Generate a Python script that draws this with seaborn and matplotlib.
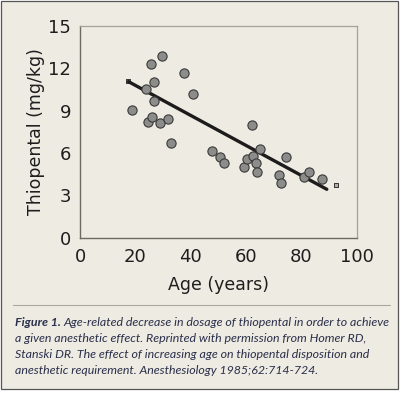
import matplotlib
matplotlib.use("Agg")
import matplotlib.pyplot as plt
import seaborn as sns
import pandas as pd
from matplotlib.lines import Line2D
from matplotlib.patches import Rectangle

# data
age = [18.8, 23.7, 25.5, 26.9, 26.9, 24.6, 25.9, 29.5, 28.9, 31.8, 32.8, 37.6,
       40.7, 47.8, 50.6, 52.2, 59.4, 60.4, 62.0, 62.7, 63.5, 63.9, 65.2, 74.5,
       71.8, 72.5, 81.0, 82.9, 87.5]
dose = [9.05, 10.52, 12.28, 11.0, 9.71, 8.2, 8.53, 12.87, 8.10, 8.39, 6.69, 11.69,
        10.18, 6.17, 5.69, 5.29, 4.98, 5.55, 7.96, 5.79, 5.32, 4.63, 6.26, 5.69,
        4.42, 3.85, 4.32, 4.68, 4.18]
fit_age = [17.5, 89.2]
fit_dose = [11.06, 3.43]
end_age = [17.5, 92.4]
end_dose = [11.1, 3.7]

x_ticks = [0, 20, 40, 60, 80, 100]
y_ticks = [0, 3, 6, 9, 12, 15]

caption = [
    "Age-related decrease in dosage of thiopental in order to achieve",
    "a given anesthetic effect. Reprinted with permission from Homer RD,",
    "Stanski DR. The effect of increasing age on thiopental disposition and",
    "anesthetic requirement. Anesthesiology 1985;62:714-724.",
]

bg = "#eeebe3"
sns.set_style("white")
plt.rcParams["font.family"] = ["DejaVu Sans"]

fig = plt.figure(figsize=(4.03, 3.96), dpi=100)
fig.patch.set_facecolor("white")
fig.patches.append(Rectangle((1 / 403, 7 / 396), 397 / 403, 388 / 396,
                             transform=fig.transFigure, facecolor=bg,
                             edgecolor="#555555", linewidth=0.9, zorder=-10))

ax = fig.add_axes([80 / 403, 158.3 / 396, 276.7 / 403, 211.7 / 396])
ax.set_facecolor(bg)

pts = pd.DataFrame({"age": age, "dose": dose})
fit = pd.DataFrame({"age": fit_age, "dose": fit_dose})
ends = pd.DataFrame({"age": end_age, "dose": end_dose})

sns.scatterplot(data=ends, x="age", y="dose", marker="s", color="#b0aea6",
                edgecolor="#333333", linewidth=0.7, s=12, ax=ax, zorder=1)
sns.lineplot(data=fit, x="age", y="dose", color="#1c1c1c", linewidth=2.4, ax=ax, zorder=2)
sns.scatterplot(data=pts, x="age", y="dose", color="#8c8c8a", edgecolor="#3a3a3a",
                linewidth=0.8, s=44, ax=ax, zorder=3)

ax.set_xlim(0, 100)
ax.set_ylim(0, 15)
ax.set_xticks(x_ticks)
ax.set_yticks(y_ticks)
ax.tick_params(axis="both", labelsize=13, length=3.5, width=0.9, color="#6b6b60",
               direction="out", pad=3, labelcolor="#1e1e1e")
ax.tick_params(axis="x", pad=4)
for side in ["left", "bottom"]:
    ax.spines[side].set_color("#6b6b60")
    ax.spines[side].set_linewidth(1.0)
for side in ["top", "right"]:
    ax.spines[side].set_color("#a5a393")
    ax.spines[side].set_linewidth(0.9)
ax.set_xlabel("Age (years)", fontsize=12.5, color="#1e1e1e", labelpad=7)
ax.set_ylabel("Thiopental (mg/kg)", fontsize=12.5, color="#1e1e1e", labelpad=2)

fig.add_artist(Line2D([13 / 403, 390 / 403], [91 / 396, 91 / 396],
                      transform=fig.transFigure, color="#aaa79b", linewidth=0.8))

cap_color = "#2a2f4a"
cap_size = 8.9
ys = [323, 339, 355, 370]
t = fig.text(15 / 403, 1 - ys[0] / 396, "Figure 1.", fontsize=cap_size, fontstyle="italic",
             fontweight="bold", color=cap_color, va="center", family="Lato")
fig.canvas.draw()
bb = t.get_window_extent()
fig.text(bb.x1 / 403 + 3 / 403, 1 - ys[0] / 396, caption[0], fontsize=cap_size,
         fontstyle="italic", color=cap_color, va="center", family="Lato")
for y, line in zip(ys[1:], caption[1:]):
    fig.text(15 / 403, 1 - y / 396, line, fontsize=cap_size, fontstyle="italic",
             color=cap_color, va="center", family="Lato")

fig.savefig("out.png", dpi=100, facecolor="white")
